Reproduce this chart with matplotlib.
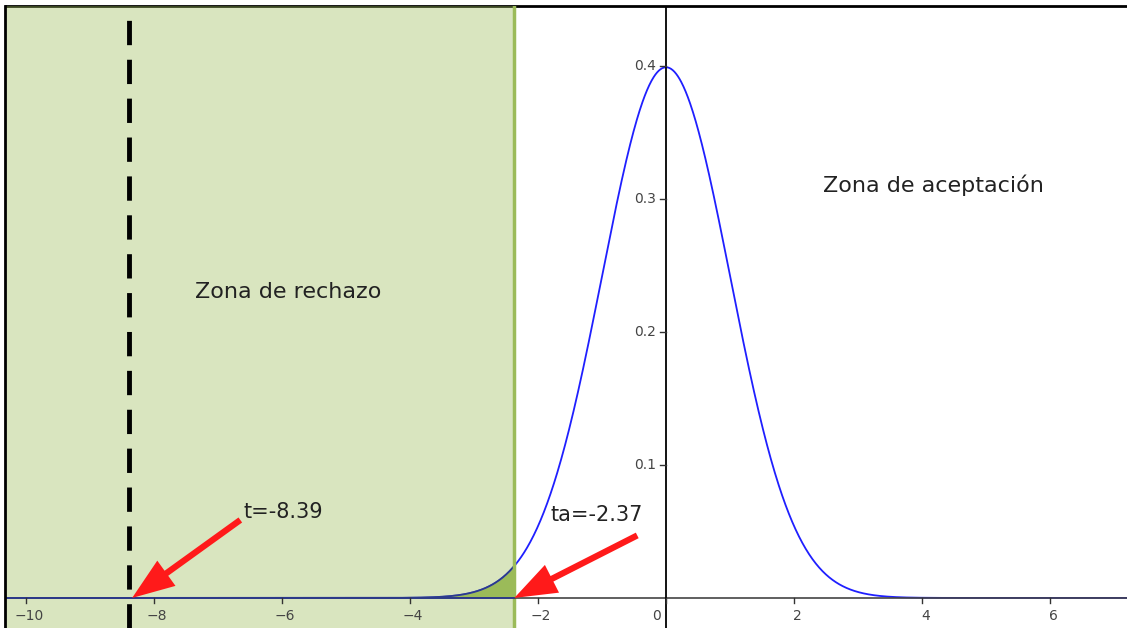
import numpy as np
import matplotlib.pyplot as plt
from matplotlib.lines import Line2D

# valores
media = 0.0
desv = 1.0
t_calc = -8.39
t_alfa = -2.37
x_lim = (-10.31, 7.20)
y_lim = (-0.0226, 0.445)
x_ticks = [-10, -8, -6, -4, -2, 0, 2, 4, 6]
y_ticks = [0.1, 0.2, 0.3, 0.4]
y_tick_labels = ["0.1", "0.2", "0.3", "0.4"]

fig = plt.figure(figsize=(11.27, 6.28), dpi=100)
ax = fig.add_axes([6 / 1127, 0, 1 - 6 / 1127, 622 / 628])
ax.set_xlim(*x_lim)
ax.set_ylim(*y_lim)

x = np.linspace(x_lim[0], x_lim[1], 2000)
y = np.exp(-0.5 * ((x - media) / desv) ** 2) / (desv * np.sqrt(2 * np.pi))

ax.plot(x, y, color="#1f1fff", lw=1.3, zorder=2)

# zona de rechazo
ax.axvspan(x_lim[0], t_alfa, color="#9BBB59", alpha=0.38, lw=0, zorder=3)
cola = x <= t_alfa
ax.fill_between(x[cola], 0, y[cola], color="#9BBB59", lw=0, zorder=4)
ax.plot(x[cola], y[cola], color="#2b3a8f", lw=1.3, zorder=5)
ax.axvline(t_alfa, color="#9BBB59", lw=2.5, zorder=5)

# ejes en cero
ax.axhline(0, color="#444444", lw=1.2, zorder=6)
ax.axvline(0, color="black", lw=1.3, zorder=6)
ax.plot(x[cola], np.zeros(cola.sum()), color="#2b3a8f", lw=1.3, zorder=6)

ax.axvline(t_calc, color="black", lw=3.5, dashes=(5, 3), zorder=7)

for s in ["left", "right", "bottom"]:
    ax.spines[s].set_visible(False)
ax.spines["top"].set_linewidth(2)
ax.set_xticks([])
ax.set_yticks([])

for v in x_ticks:
    ax.plot([v, v], [0, -0.004], color="#333333", lw=1, zorder=6, clip_on=False)
    etiqueta = f"\u2212{abs(v)}" if v < 0 else str(v)
    dx = -0.15 if v == 0 else 0.05
    ax.text(v + dx, -0.0085, etiqueta, ha="center", va="top", fontsize=10,
            color="#444444")
for v, lab in zip(y_ticks, y_tick_labels):
    ax.plot([-0.09, 0], [v, v], color="#333333", lw=1, zorder=6)
    ax.text(-0.16, v, lab, ha="right", va="center", fontsize=10,
            color="#444444")

ax.text(-5.9, 0.230, "Zona de rechazo", ha="center", va="center",
        fontsize=16, color="#222222", zorder=8)
ax.text(4.18, 0.3105, "Zona de aceptación", ha="center", va="center",
        fontsize=16, color="#222222", zorder=8)

flecha = dict(arrowstyle="simple,head_length=0.95,head_width=0.7,tail_width=0.14",
              color="#ff1a1a", lw=0, mutation_scale=32,
              shrinkA=0, shrinkB=0)
ax.annotate("", xy=(t_calc + 0.05, 0.0), xytext=(-6.65, 0.0586),
            arrowprops=flecha, zorder=9)
ax.text(-6.6, 0.0647, "t=-8.39", ha="left", va="center", fontsize=15,
        color="#222222", zorder=9)
ax.annotate("", xy=(t_alfa, 0.0), xytext=(-0.45, 0.047),
            arrowprops=flecha, zorder=9)
ax.text(-1.8, 0.0624, "ta=-2.37", ha="left", va="center", fontsize=15,
        color="#222222", zorder=9)

fig.add_artist(Line2D([4.5 / 1127, 4.5 / 1127], [0, 622 / 628],
                      color="black", lw=2, transform=fig.transFigure))

fig.savefig("out.png", dpi=100)
